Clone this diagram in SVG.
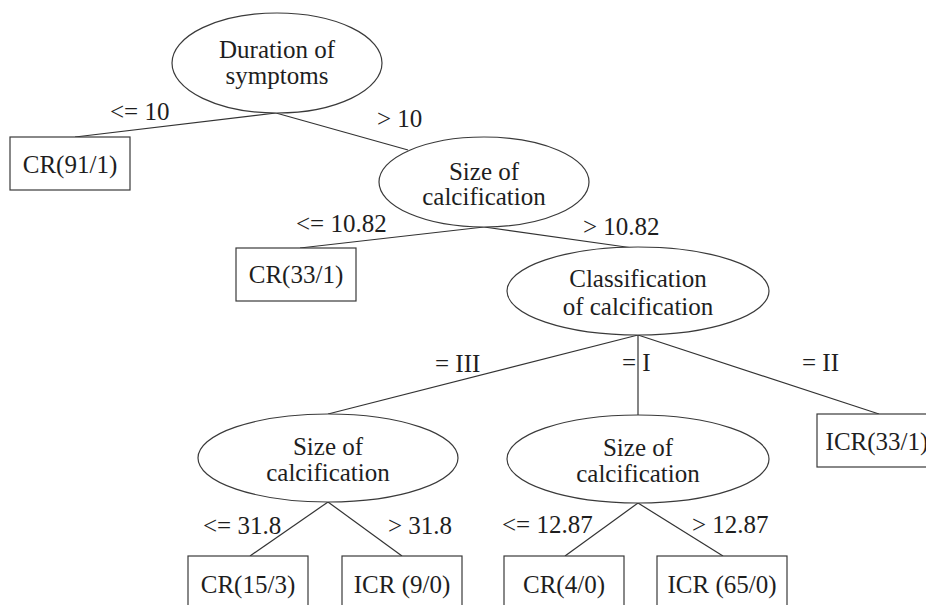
<svg xmlns="http://www.w3.org/2000/svg" width="926" height="605" viewBox="0 0 926 605">
<style>
text{font-family:'Liberation Serif','Tinos','DejaVu Serif','Noto Serif',serif;font-size:25px;fill:#1e1e1e}
.c{text-anchor:middle}
.n{fill:#fff;stroke:#3a3a3a;stroke-width:1.2}
.e line{stroke:#333;stroke-width:1.2}
</style>
<rect width="926" height="605" fill="#fff"/>
<g id="connectors" class="e">
<line x1="276" y1="113" x2="75" y2="137"/>
<line x1="276" y1="113" x2="408" y2="150"/>
<line x1="484" y1="227" x2="300" y2="248"/>
<line x1="484" y1="227" x2="633" y2="248"/>
<line x1="638" y1="335" x2="328" y2="414"/>
<line x1="638" y1="335" x2="638" y2="415"/>
<line x1="638" y1="335" x2="879" y2="414"/>
<line x1="328" y1="502" x2="250" y2="556"/>
<line x1="328" y1="502" x2="402" y2="556"/>
<line x1="638" y1="503" x2="565" y2="556"/>
<line x1="638" y1="503" x2="723" y2="556"/>
</g>
<g id="edge-labels">
<text x="110" y="120">&lt;= 10</text>
<text x="377" y="127">&gt; 10</text>
<text x="296" y="232">&lt;= 10.82</text>
<text x="583" y="235">&gt; 10.82</text>
<text x="435" y="372">= III</text>
<text x="622" y="371">= I</text>
<text x="802" y="371">= II</text>
<text x="203" y="534">&lt;= 31.8</text>
<text x="388" y="534">&gt; 31.8</text>
<text x="502" y="533">&lt;= 12.87</text>
<text x="692" y="533">&gt; 12.87</text>
</g>
<g id="n-duration">
<ellipse class="n" cx="277" cy="63" rx="105" ry="50"/>
<text class="c" x="277" y="58">Duration of</text>
<text class="c" x="277" y="84">symptoms</text>
</g>
<g id="n-cr91">
<rect class="n" x="10" y="137" width="120" height="53"/>
<text class="c" x="70" y="173">CR(91/1)</text>
</g>
<g id="n-size1">
<ellipse class="n" cx="484" cy="182" rx="105" ry="45"/>
<text class="c" x="484" y="180">Size of</text>
<text class="c" x="484" y="205">calcification</text>
</g>
<g id="n-cr33">
<rect class="n" x="236" y="248" width="120" height="53"/>
<text class="c" x="296" y="283">CR(33/1)</text>
</g>
<g id="n-class">
<ellipse class="n" cx="638" cy="291" rx="131" ry="44"/>
<text class="c" x="638" y="287">Classification</text>
<text class="c" x="638" y="315">of calcification</text>
</g>
<g id="n-size2">
<ellipse class="n" cx="328" cy="458" rx="130" ry="44"/>
<text class="c" x="328" y="455">Size of</text>
<text class="c" x="328" y="481">calcification</text>
</g>
<g id="n-size3">
<ellipse class="n" cx="638" cy="459" rx="131" ry="44"/>
<text class="c" x="638" y="456">Size of</text>
<text class="c" x="638" y="482">calcification</text>
</g>
<g id="n-icr33">
<rect class="n" x="817" y="414" width="120" height="53"/>
<text class="c" x="877" y="450">ICR(33/1)</text>
</g>
<g id="n-cr15">
<rect class="n" x="188" y="556" width="120" height="56"/>
<text class="c" x="248" y="593">CR(15/3)</text>
</g>
<g id="n-icr9">
<rect class="n" x="342" y="556" width="120" height="56"/>
<text class="c" x="402" y="593">ICR (9/0)</text>
</g>
<g id="n-cr4">
<rect class="n" x="504" y="556" width="120" height="56"/>
<text class="c" x="564" y="593">CR(4/0)</text>
</g>
<g id="n-icr65">
<rect class="n" x="657" y="556" width="130" height="56"/>
<text class="c" x="722" y="593">ICR (65/0)</text>
</g>
</svg>
